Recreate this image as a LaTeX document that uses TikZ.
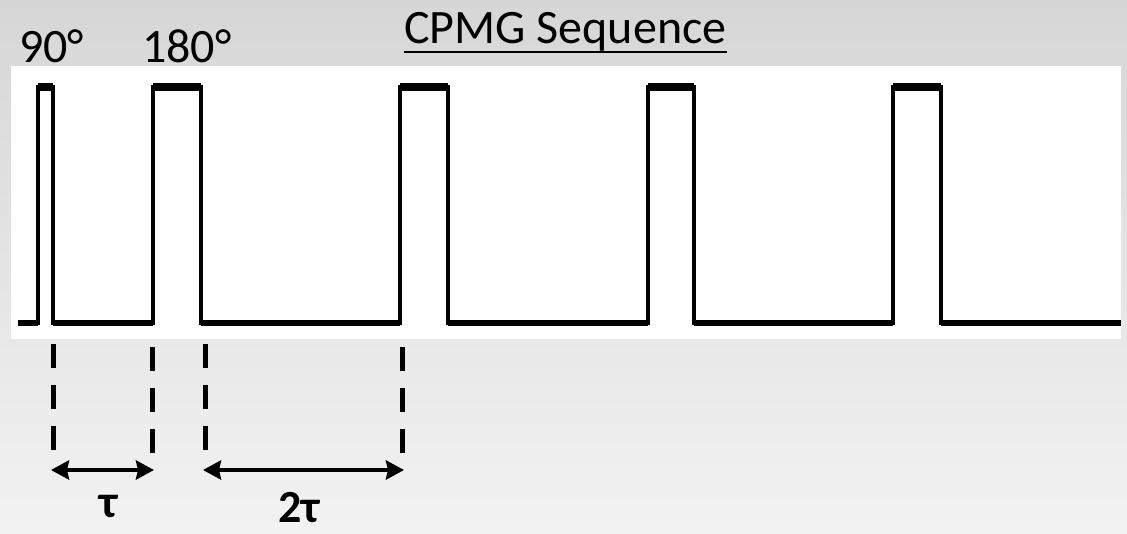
\documentclass[tikz,border=0pt]{standalone}
\usepackage{fontspec}
\setmainfont{Carlito}
\usetikzlibrary{arrows.meta}
\tikzset{
  wave/.style={line width=4pt, line join=miter},
  base/.style={line width=6pt},
  top/.style={line width=8pt},
  guide/.style={line width=5pt, dash pattern=on 24pt off 17pt},
  dim/.style={line width=4pt, {Stealth[length=18pt,width=19pt,inset=2pt]}-{Stealth[length=18pt,width=19pt,inset=2pt]}},
  lbl/.style={inner sep=0pt, font=\fontsize{48pt}{52pt}\selectfont, anchor=base west},
  blbl/.style={inner sep=0pt, text depth=0pt, font=\fontsize{46pt}{50pt}\selectfont\bfseries, anchor=base}
}
\begin{document}
\begin{tikzpicture}[x=1pt,y=-1pt]
\useasboundingbox (0,0) rectangle (1127,533);
\shade[top color=black!16, bottom color=black!5] (0,0) rectangle (1127,533);
\fill[white] (11,66) rectangle (1121,339);
% waveform
\draw[wave] (18,323) -- (38,323) -- (38,87) -- (53,87) -- (53,323) -- (153,323) -- (153,87) -- (201,87) -- (201,323) -- (400,323) -- (400,87) -- (448,87) -- (448,323) -- (648,323) -- (648,87) -- (694,87) -- (694,323) -- (893,323) -- (893,87) -- (941,87) -- (941,323) -- (1121,323);
\foreach \a/\b in {18/38,53/153,201/400,448/648,694/893,941/1121}
  \draw[base] (\a,323) -- (\b,323);
\foreach \a/\b in {38/53,153/201,400/448,648/694,893/941}
  \draw[top] (\a,87) -- (\b,87);
% labels
\node[lbl] (l90) at (19,62) {90°};
\node[lbl] (l180) at (142,62) {180°};
\node[lbl] (title) at (404,43) {CPMG Sequence};
\draw[line width=2pt] ([yshift=-9pt]title.base west) -- ([yshift=-9pt]title.base east);
% guide lines
\coordinate (g1t) at (53,344); \coordinate (g1b) at (53,452);
\coordinate (g2t) at (152,347); \coordinate (g2b) at (152,455);
\coordinate (g3t) at (205,344); \coordinate (g3b) at (205,452);
\coordinate (g4t) at (402,347); \coordinate (g4b) at (402,455);
\draw[guide] (g1t) -- (g1b);
\draw[guide] (g2t) -- (g2b);
\draw[guide] (g3t) -- (g3b);
\draw[guide] (g4t) -- (g4b);
% dimension arrows
\coordinate (a1) at (51,470); \coordinate (a2) at (154,470);
\coordinate (a3) at (203,470); \coordinate (a4) at (404,470);
\draw[dim] (a1) -- (a2);
\draw[dim] (a3) -- (a4);
\node[blbl] (tau) at (109,517) {τ};
\node[blbl] (twotau) at (299,522) {2τ};
\end{tikzpicture}
\end{document}
